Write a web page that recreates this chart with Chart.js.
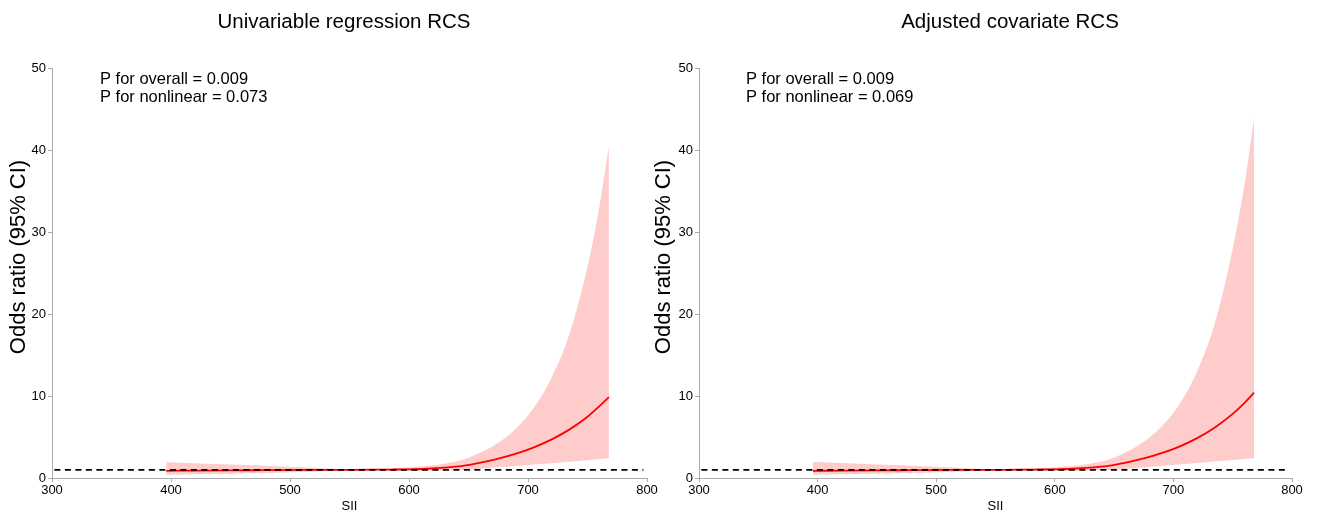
<!DOCTYPE html>
<html lang="en">
<head>
  <meta charset="UTF-8">
  <title>RCS</title>
  <script src="https://cdn.jsdelivr.net/npm/chart.js"></script>
  <style>
    body { margin: 0; background: #fff; }
    .wrap { position: relative; width: 1319px; height: 513px; }
    canvas { position: absolute; top: 0; }
  </style>
</head>
<body>
<div class="wrap">
  <canvas id="graficoUni" width="665" height="513" style="left:0px"></canvas>
  <canvas id="graficoAdj" width="679" height="513" style="left:640px"></canvas>
</div>

<script>
// SII values where the curves are read
const sii = [396, 420, 450, 480, 510, 530, 550, 570, 585, 600, 615, 630, 645, 660, 675, 690, 705, 720, 735, 750, 760, 768];

// Univariable regression
const uniOR    = [0.88, 0.905, 0.932, 0.956, 0.98, 0.992, 1.00, 1.01, 1.03, 1.062, 1.127, 1.259, 1.477, 1.878, 2.363, 2.974, 3.743, 4.711, 5.93, 7.463, 8.758, 9.875];
const uniLower = [0.40, 0.458, 0.533, 0.616, 0.741, 0.854, 1.00, 0.932, 0.896, 0.869, 0.869, 0.905, 0.98, 1.139, 1.297, 1.462, 1.632, 1.804, 1.994, 2.16, 2.316, 2.411];
const uniUpper = [1.94, 1.786, 1.632, 1.484, 1.297, 1.153, 1.00, 1.094, 1.185, 1.297, 1.462, 1.751, 2.226, 3.096, 4.306, 6.05, 8.585, 12.3, 17.64, 25.79, 33.12, 40.45];

// Adjusted covariate
const adjOR    = [0.87, 0.90, 0.932, 0.956, 0.98, 0.992, 1.00, 1.01, 1.03, 1.062, 1.127, 1.259, 1.477, 1.878, 2.382, 3.022, 3.83, 4.86, 6.166, 7.815, 9.162, 10.40];
const adjLower = [0.39, 0.45, 0.533, 0.616, 0.741, 0.854, 1.00, 0.932, 0.896, 0.869, 0.869, 0.905, 0.98, 1.127, 1.288, 1.456, 1.637, 1.815, 2.012, 2.184, 2.34, 2.42];
const adjUpper = [1.99, 1.82, 1.632, 1.484, 1.297, 1.153, 1.00, 1.094, 1.185, 1.297, 1.462, 1.751, 2.226, 3.127, 4.406, 6.271, 8.962, 13.01, 18.9, 27.97, 35.87, 43.8];

const refLine = [302, 797];   // x range of the OR = 1 dashed line
const xMin = 300, xMax = 800, xStep = 100;
const yMin = 0, yMax = 50, yStep = 10;

const fonte = "'Liberation Sans', Arial, sans-serif";

function pontos(xs, ys) {
    return xs.map(function (x, i) { return { x: x, y: ys[i] }; });
}

function desenharGrafico(id, opt) {
    const textos = {
        id: 'textos',
        afterDraw: function (chart) {
            const ctx = chart.ctx;
            ctx.save();
            ctx.fillStyle = '#000';
            ctx.textBaseline = 'middle';
            ctx.textAlign = 'center';
            ctx.font = '20.5px ' + fonte;
            ctx.fillText(opt.titulo, opt.tituloX, 22);

            ctx.textAlign = 'left';
            ctx.font = '16.5px ' + fonte;
            ctx.fillText(opt.pGeral, opt.textoX, 79);
            ctx.fillText(opt.pNaoLinear, opt.textoX, 97);

            ctx.translate(opt.rotuloX, 257);
            ctx.rotate(-Math.PI / 2);
            ctx.textAlign = 'center';
            ctx.font = '22px ' + fonte;
            ctx.fillText('Odds ratio (95% CI)', 0, 0);
            ctx.restore();
        }
    };

    const ctx = document.getElementById(id).getContext('2d');
    new Chart(ctx, {
        type: 'line',
        data: {
            datasets: [{
                data: pontos(sii, opt.upper),
                borderWidth: 0,
                backgroundColor: 'rgba(255, 0, 0, 0.2)',
                fill: '+1',
                pointRadius: 0,
                cubicInterpolationMode: 'monotone',
                order: 3
            }, {
                data: pontos(sii, opt.lower),
                borderWidth: 0,
                backgroundColor: 'rgba(255, 0, 0, 0.2)',
                fill: false,
                pointRadius: 0,
                cubicInterpolationMode: 'monotone',
                order: 2
            }, {
                data: pontos(sii, opt.or),
                borderColor: '#ff0000',
                borderWidth: 1.8,
                fill: false,
                pointRadius: 0,
                cubicInterpolationMode: 'monotone',
                order: 1
            }, {
                data: [{ x: refLine[0], y: 1 }, { x: refLine[1], y: 1 }],
                borderColor: '#000',
                borderWidth: 1.8,
                borderDash: [6, 4.5],
                fill: false,
                pointRadius: 0,
                order: 0
            }]
        },
        options: {
            responsive: false,
            animation: false,
            layout: { padding: { left: 0, right: opt.padDir, top: 68, bottom: 0 } },
            plugins: { legend: { display: false }, tooltip: { enabled: false }, title: { display: false } },
            scales: {
                x: {
                    type: 'linear',
                    min: xMin, max: xMax,
                    afterFit: function (s) { s.height = 35; },
                    ticks: { stepSize: xStep, color: '#000', padding: 1, font: { size: 13, family: fonte } },
                    grid: { drawOnChartArea: false, tickLength: 4, tickColor: '#aaa' },
                    border: { color: '#aaa', width: 1 },
                    title: { display: true, text: 'SII', color: '#000', padding: { top: 0, bottom: -1 }, font: { size: 13, family: fonte } }
                },
                y: {
                    min: yMin, max: yMax,
                    afterFit: function (s) { s.width = opt.larguraY; },
                    ticks: { stepSize: yStep, color: '#000', padding: 2, font: { size: 13, family: fonte } },
                    grid: { drawOnChartArea: false, tickLength: 4, tickColor: '#aaa' },
                    border: { color: '#aaa', width: 1 }
                }
            }
        },
        plugins: [textos]
    });
}

desenharGrafico('graficoUni', {
    titulo: 'Univariable regression RCS',
    pGeral: 'P for overall = 0.009',
    pNaoLinear: 'P for nonlinear = 0.073',
    or: uniOR, lower: uniLower, upper: uniUpper,
    tituloX: 344, textoX: 100, rotuloX: 19,
    larguraY: 52, padDir: 18
});

desenharGrafico('graficoAdj', {
    titulo: 'Adjusted covariate RCS',
    pGeral: 'P for overall = 0.009',
    pNaoLinear: 'P for nonlinear = 0.069',
    or: adjOR, lower: adjLower, upper: adjUpper,
    tituloX: 370, textoX: 106, rotuloX: 24,
    larguraY: 59, padDir: 27
});
</script>
</body>
</html>
